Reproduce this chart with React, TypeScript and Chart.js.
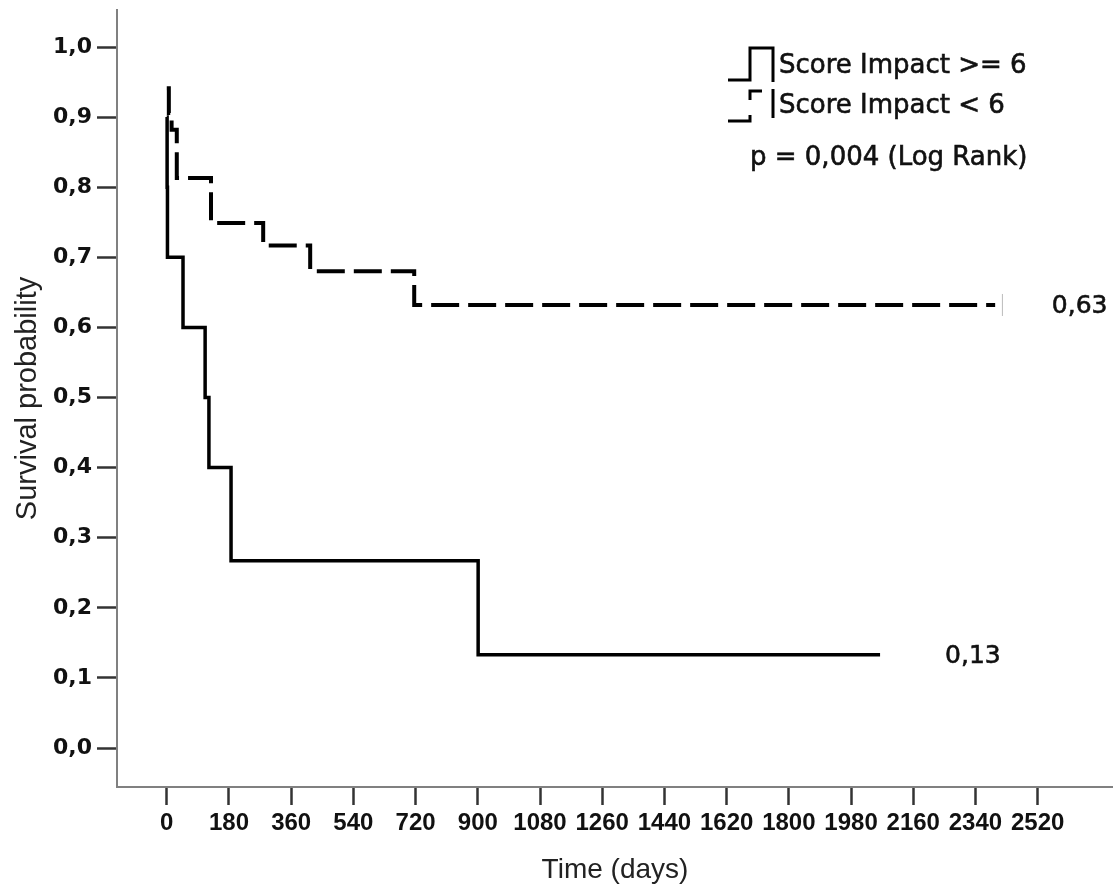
import React, { useEffect, useRef } from 'react';
import { Chart, registerables } from 'chart.js';

Chart.register(...registerables);

// Kaplan-Meier step data (time in days, survival probability)
const highTimes = [0, 1, 2, 47, 111, 122, 186, 901, 2064];
const highSurv = [0.9, 0.8, 0.7, 0.6, 0.5, 0.4, 0.267, 0.133, 0.133];
const lowTimes = [0, 6, 14, 29, 128, 279, 415, 716, 2397];
const lowSurv = [0.941, 0.906, 0.882, 0.813, 0.749, 0.717, 0.68, 0.632, 0.632];
const lowCensorTimes = [2418];
const lowCensorSurv = [0.632];

const xTickValues = [0, 180, 360, 540, 720, 900, 1080, 1260, 1440, 1620, 1800, 1980, 2160, 2340, 2520];
const yTickValues = [0, 0.1, 0.2, 0.3, 0.4, 0.5, 0.6, 0.7, 0.8, 0.9, 1.0];

const seriesLabels = ['Score Impact >= 6', 'Score Impact < 6'];
const pValueText = 'p = 0,004 (Log Rank)';
const endLabels = ['0,13', '0,63'];
const endLabelTimes = [2252, 2561];
const endLabelSurv = [0.13, 0.63];

const X_MIN = -144;
const X_MAX = 2738;
const Y_MIN = -0.0556;
const Y_MAX = 1.0528;

function heavyText(ctx: CanvasRenderingContext2D, text: string, x: number, y: number) {
  ctx.fillText(text, x, y);
  ctx.strokeText(text, x, y);
}

const annotPlugin = {
  id: 'kmAnnotations',
  afterDraw(chart: any) {
    const ctx = chart.ctx as CanvasRenderingContext2D;
    const xs = chart.scales.x;
    const ys = chart.scales.y;
    ctx.save();
    // end labels
    ctx.fillStyle = '#111';
    ctx.strokeStyle = '#111';
    ctx.lineWidth = 0.6;
    ctx.font = '25px "DejaVu Sans"';
    ctx.textAlign = 'left';
    ctx.textBaseline = 'middle';
    endLabels.forEach((lab, i) => {
      heavyText(ctx, lab, xs.getPixelForValue(endLabelTimes[i]), ys.getPixelForValue(endLabelSurv[i]));
    });

    // legend symbols
    ctx.strokeStyle = '#000';
    ctx.lineWidth = 3;
    ctx.lineCap = 'butt';
    ctx.lineJoin = 'miter';
    ctx.beginPath();
    ctx.moveTo(728, 80);
    ctx.lineTo(750, 80);
    ctx.lineTo(750, 48);
    ctx.lineTo(773, 48);
    ctx.lineTo(773, 82);
    ctx.stroke();
    ctx.beginPath();
    ctx.moveTo(728, 121);
    ctx.lineTo(750, 121);
    ctx.lineTo(750, 115);
    ctx.stroke();
    ctx.beginPath();
    ctx.moveTo(750, 100);
    ctx.lineTo(750, 91);
    ctx.lineTo(762, 91);
    ctx.stroke();
    ctx.beginPath();
    ctx.moveTo(773, 89);
    ctx.lineTo(773, 118);
    ctx.stroke();

    ctx.fillStyle = '#111';
    ctx.strokeStyle = '#111';
    ctx.lineWidth = 0.6;
    ctx.font = '26px "DejaVu Sans"';
    ctx.textBaseline = 'middle';
    heavyText(ctx, seriesLabels[0], 779, 66);
    heavyText(ctx, seriesLabels[1], 779, 106);
    heavyText(ctx, pValueText, 750, 158);
    ctx.restore();
  },
};

export default function App() {
  const ref = useRef<HTMLCanvasElement>(null);
  useEffect(() => {
    const canvas = ref.current!;
    const chart = new Chart(canvas, {
      type: 'line',
      data: {
        datasets: [
          {
            label: seriesLabels[0],
            data: highTimes.map((t, i) => ({ x: t, y: highSurv[i] })),
            stepped: 'before',
            borderColor: '#000',
            borderWidth: 3.5,
            pointRadius: 0,
            fill: false,
          },
          {
            label: seriesLabels[1],
            data: lowTimes.map((t, i) => ({ x: t, y: lowSurv[i] })),
            stepped: 'before',
            borderColor: '#000',
            borderWidth: 4,
            borderDash: [28, 9],
            pointRadius: 0,
            fill: false,
          },
          {
            label: 'censored',
            data: lowCensorTimes.map((t, i) => ({ x: t, y: lowCensorSurv[i] })),
            showLine: false,
            pointStyle: 'line',
            pointRotation: 90,
            pointRadius: 11,
            pointBorderWidth: 1,
            borderColor: '#bbb',
            backgroundColor: '#bbb',
          },
        ],
      } as any,
      options: {
        responsive: false,
        animation: false,
        events: [],
        layout: { autoPadding: false, padding: { top: 10, left: 0, right: 0, bottom: 0 } },
        plugins: { legend: { display: false }, tooltip: { enabled: false } },
        scales: {
          x: {
            type: 'linear',
            min: X_MIN,
            max: X_MAX,
            afterBuildTicks: (s: any) => {
              s.ticks = xTickValues.map((v) => ({ value: v }));
            },
            afterFit: (s: any) => {
              s.height = 106;
              s.paddingLeft = 0;
              s.paddingRight = 0;
            },
            grid: {
              display: true,
              drawOnChartArea: false,
              drawTicks: true,
              tickLength: 18,
              tickColor: '#333',
              tickWidth: 2.5,
            },
            border: { display: true, color: '#808080', width: 2 },
            ticks: {
              autoSkip: false,
              maxRotation: 0,
              padding: 4,
              color: '#111',
              font: { family: "'Liberation Sans', Arial, sans-serif", size: 24, weight: 'bold' },
              callback: (v: any) => String(v),
            },
            title: {
              display: true,
              text: 'Time (days)',
              color: '#222',
              font: { family: "'Liberation Sans', Arial, sans-serif", size: 28 },
              padding: { top: 0, bottom: 6 },
            },
          },
          y: {
            type: 'linear',
            min: Y_MIN,
            max: Y_MAX,
            afterBuildTicks: (s: any) => {
              s.ticks = yTickValues.map((v) => ({ value: v }));
            },
            afterFit: (s: any) => {
              s.width = 117;
              s.paddingTop = 0;
              s.paddingBottom = 0;
            },
            grid: {
              display: true,
              drawOnChartArea: false,
              drawTicks: true,
              tickLength: 20,
              tickColor: '#333',
              tickWidth: 2.5,
            },
            border: { display: true, color: '#808080', width: 2 },
            ticks: {
              padding: 5,
              color: '#111',
              font: { family: "'DejaVu Sans', sans-serif", size: 22, weight: 'bold' },
              callback: (v: any) => Number(v).toFixed(1).replace('.', ','),
            },
            title: {
              display: true,
              text: 'Survival probability',
              color: '#222',
              font: { family: "'Liberation Sans', Arial, sans-serif", size: 29 },
              padding: { top: 11, bottom: 0 },
            },
          },
        },
      } as any,
      plugins: [annotPlugin],
    });
    return () => chart.destroy();
  }, []);
  return (
    <div style={{ position: 'absolute', left: 0, top: 0, width: 1113, height: 893, background: '#fff' }}>
      <canvas ref={ref} width={1113} height={893} style={{ display: 'block' }} />
    </div>
  );
}
